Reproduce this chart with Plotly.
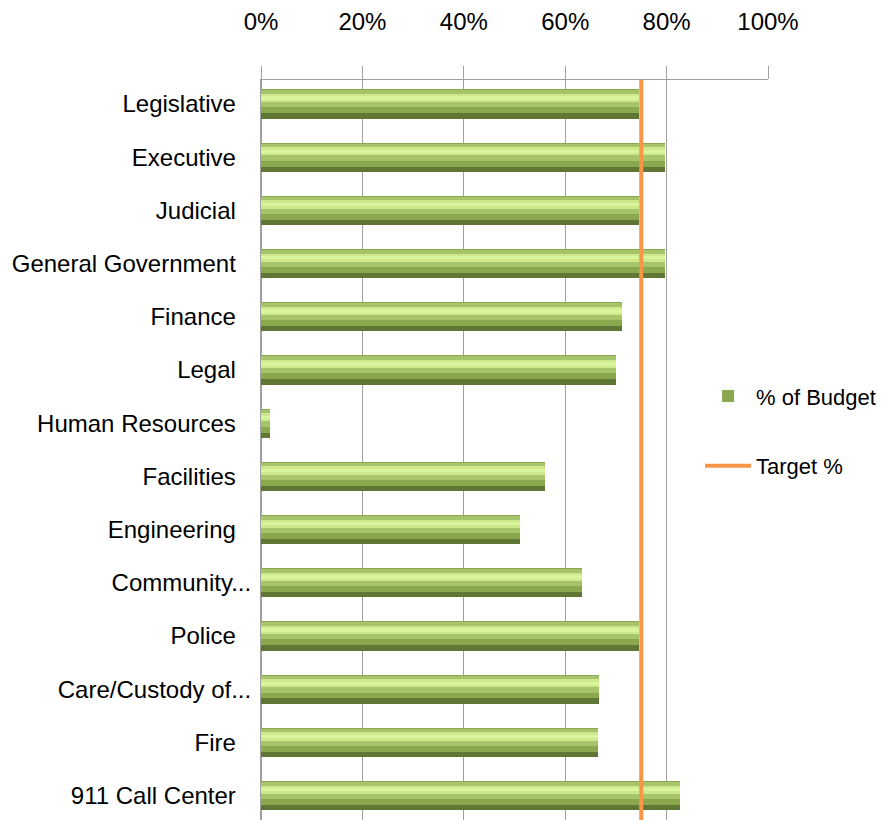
import plotly.graph_objects as go

categories = ["Legislative", "Executive", "Judicial", "General Government", "Finance",
              "Legal", "Human Resources", "Facilities", "Engineering", "Community...",
              "Police", "Care/Custody of...", "Fire", "911 Call Center"]
pct_of_budget = [0.746, 0.797, 0.746, 0.797, 0.713, 0.701, 0.018, 0.560, 0.511,
                 0.634, 0.746, 0.667, 0.665, 0.826]
target_pct = [0.75]
x_ticks = [0, 0.2, 0.4, 0.6, 0.8, 1.0]
x_tick_labels = ["0%", "20%", "40%", "60%", "80%", "100%"]

FONT = "Liberation Sans"
FS = 24
NB = "\u00a0"
tick_text = [c if c.endswith("...") else c + NB * 2 + "\u200a" for c in categories]

W = 0.55  # bar thickness in category units
# layered bands (start fraction from top, end fraction, colour) to mimic the bevelled gradient
bands = [
    (0.00, 1.00, "#5F7634"),
    (0.00, 0.82, "#8AA84E"),
    (0.04, 0.62, "#A6C56A"),
    (0.16, 0.44, "#CDE98C"),
    (0.24, 0.36, "#D9F59C"),
]

fig = go.Figure()
for i, (a, b, col) in enumerate(bands):
    fig.add_trace(go.Bar(
        y=categories, x=pct_of_budget, orientation="h",
        width=(b - a) * W, offset=-W / 2 + a * W,
        marker=dict(color=col, line=dict(width=0)),
        name="% of Budget", showlegend=(i == 1), legendgroup="g1",
        hoverinfo="skip" if i != 1 else None,
    ))

fig.add_trace(go.Scatter(
    x=[target_pct[0], target_pct[0]], y=[0, 1], yaxis="y2", mode="lines",
    line=dict(color="#F79646", width=4), name="Target %", legendgroup="g2",
))

fig.update_layout(
    width=886, height=812,
    margin=dict(l=253, r=126, t=72, b=0),
    paper_bgcolor="white", plot_bgcolor="white",
    barmode="overlay", bargap=0,
    font=dict(family=FONT, size=FS, color="#000000"),
    xaxis=dict(
        side="top", range=[0, 1], tickvals=x_ticks, ticktext=x_tick_labels,
        showgrid=True, gridcolor="#A0A0A0", gridwidth=1,
        zeroline=True, zerolinecolor="#A0A0A0", zerolinewidth=1,
        showline=True, linecolor="#A0A0A0", linewidth=1, mirror=False,
        ticks="outside", ticklen=13, tickcolor="#A0A0A0", tickwidth=1,
        ticklabelstandoff=26, tickfont=dict(size=FS, family=FONT),
    ),
    yaxis=dict(
        categoryorder="array", categoryarray=categories,
        range=[13.46, -0.45], tickvals=categories, ticktext=tick_text,
        showgrid=False, showline=True, linecolor="#A0A0A0", linewidth=1,
        ticks="", ticklabelstandoff=4, tickfont=dict(size=FS, family=FONT),
    ),
    yaxis2=dict(overlaying="y", range=[0, 1], visible=False),
    legend=dict(
        x=0.866, xanchor="left", y=0.601, yanchor="top",
        bgcolor="rgba(0,0,0,0)", tracegroupgap=38,
        font=dict(size=22, family=FONT), traceorder="grouped",
        itemwidth=46,
    ),
    showlegend=True,
)

fig.write_html("out.html")
